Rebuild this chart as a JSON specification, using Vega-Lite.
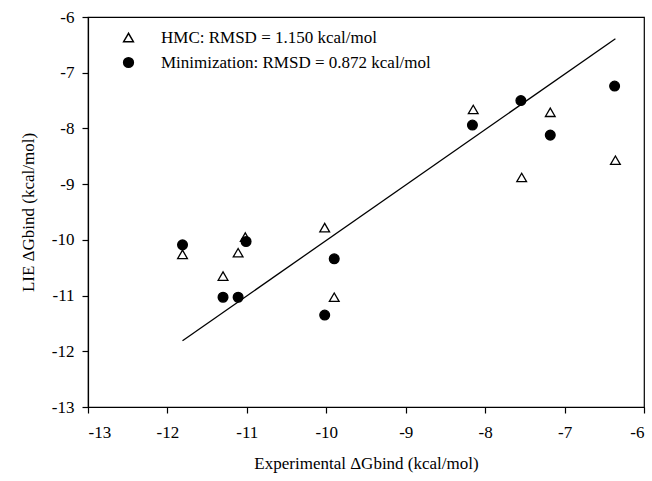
{
  "$schema": "https://vega.github.io/schema/vega-lite/v6.json",
  "autosize": "none",
  "width": 556,
  "height": 390,
  "padding": {"left": 88, "top": 17, "right": 8, "bottom": 74},
  "background": "white",
  "config": {
    "font": "Liberation Serif",
    "view": {"stroke": "black", "strokeWidth": 1.2},
    "axis": {
      "domainColor": "black",
      "domainWidth": 1.2,
      "tickColor": "black",
      "tickSize": 6,
      "tickWidth": 1.2,
      "grid": false,
      "labelFont": "Liberation Serif",
      "labelFontSize": 17,
      "labelColor": "black",
      "titleFont": "Liberation Serif",
      "titleFontSize": 17,
      "titleFontWeight": "normal",
      "titleColor": "black"
    }
  },
  "datasets": {
    "points": [
      {"exp": -11.81, "lie": -10.26, "series": "HMC: RMSD = 1.150 kcal/mol"},
      {"exp": -11.30, "lie": -10.65, "series": "HMC: RMSD = 1.150 kcal/mol"},
      {"exp": -11.11, "lie": -10.23, "series": "HMC: RMSD = 1.150 kcal/mol"},
      {"exp": -11.02, "lie": -9.95, "series": "HMC: RMSD = 1.150 kcal/mol"},
      {"exp": -10.02, "lie": -9.78, "series": "HMC: RMSD = 1.150 kcal/mol"},
      {"exp": -9.90, "lie": -11.03, "series": "HMC: RMSD = 1.150 kcal/mol"},
      {"exp": -8.15, "lie": -7.66, "series": "HMC: RMSD = 1.150 kcal/mol"},
      {"exp": -7.54, "lie": -8.88, "series": "HMC: RMSD = 1.150 kcal/mol"},
      {"exp": -7.18, "lie": -7.71, "series": "HMC: RMSD = 1.150 kcal/mol"},
      {"exp": -6.36, "lie": -8.57, "series": "HMC: RMSD = 1.150 kcal/mol"},
      {"exp": -11.81, "lie": -10.09, "series": "Minimization: RMSD = 0.872 kcal/mol"},
      {"exp": -11.30, "lie": -11.03, "series": "Minimization: RMSD = 0.872 kcal/mol"},
      {"exp": -11.11, "lie": -11.03, "series": "Minimization: RMSD = 0.872 kcal/mol"},
      {"exp": -11.01, "lie": -10.03, "series": "Minimization: RMSD = 0.872 kcal/mol"},
      {"exp": -10.02, "lie": -11.35, "series": "Minimization: RMSD = 0.872 kcal/mol"},
      {"exp": -9.90, "lie": -10.34, "series": "Minimization: RMSD = 0.872 kcal/mol"},
      {"exp": -8.16, "lie": -7.94, "series": "Minimization: RMSD = 0.872 kcal/mol"},
      {"exp": -7.55, "lie": -7.50, "series": "Minimization: RMSD = 0.872 kcal/mol"},
      {"exp": -7.18, "lie": -8.12, "series": "Minimization: RMSD = 0.872 kcal/mol"},
      {"exp": -6.37, "lie": -7.24, "series": "Minimization: RMSD = 0.872 kcal/mol"}
    ],
    "fit": [
      {"exp": -11.81, "lie": -11.81},
      {"exp": -6.36, "lie": -6.39}
    ]
  },
  "layer": [
    {
      "data": {"name": "fit"},
      "mark": {"type": "line", "color": "black", "strokeWidth": 1.3},
      "encoding": {
        "x": {"field": "exp", "type": "quantitative"},
        "y": {"field": "lie", "type": "quantitative"}
      }
    },
    {
      "data": {"name": "points"},
      "mark": {"type": "point", "filled": true, "size": 95, "opacity": 1},
      "encoding": {
        "x": {
          "field": "exp", "type": "quantitative",
          "scale": {"domain": [-13, -6], "nice": false, "zero": false},
          "axis": {"values": [-13, -12, -11, -10, -9, -8, -7, -6], "labelExpr": "'' + datum.value", "labelPadding": 11, "titlePadding": 15},
          "title": "Experimental ΔGbind (kcal/mol)"
        },
        "y": {
          "field": "lie", "type": "quantitative",
          "scale": {"domain": [-13, -6], "nice": false, "zero": false},
          "axis": {"values": [-13, -12, -11, -10, -9, -8, -7, -6], "labelExpr": "'' + datum.value", "labelPadding": 8, "titlePadding": 14},
          "title": "LIE ΔGbind (kcal/mol)"
        },
        "stroke": {"value": "black"},
        "strokeWidth": {"value": 1.3},
        "shape": {
          "field": "series", "type": "nominal",
          "scale": {"domain": ["HMC: RMSD = 1.150 kcal/mol", "Minimization: RMSD = 0.872 kcal/mol"], "range": ["triangle-up", "circle"]},
          "title": null,
          "legend": {
            "orient": "none", "legendX": 32, "legendY": 12,
            "padding": 0, "labelFontSize": 17, "labelFont": "Liberation Serif", "labelColor": "black", "labelLimit": 0,
            "labelOffset": 24, "rowPadding": 7, "symbolSize": 95,
            "encode": {
              "symbols": {
                "update": {
                  "fill": {"signal": "datum.value === 'HMC: RMSD = 1.150 kcal/mol' ? 'white' : 'black'"},
                  "stroke": {"value": "black"},
                  "strokeWidth": {"value": 1.3},
                  "opacity": {"value": 1}
                }
              }
            }
          }
        },
        "fill": {
          "field": "series", "type": "nominal",
          "scale": {"domain": ["HMC: RMSD = 1.150 kcal/mol", "Minimization: RMSD = 0.872 kcal/mol"], "range": ["white", "black"]},
          "legend": null
        }
      }
    }
  ]
}
